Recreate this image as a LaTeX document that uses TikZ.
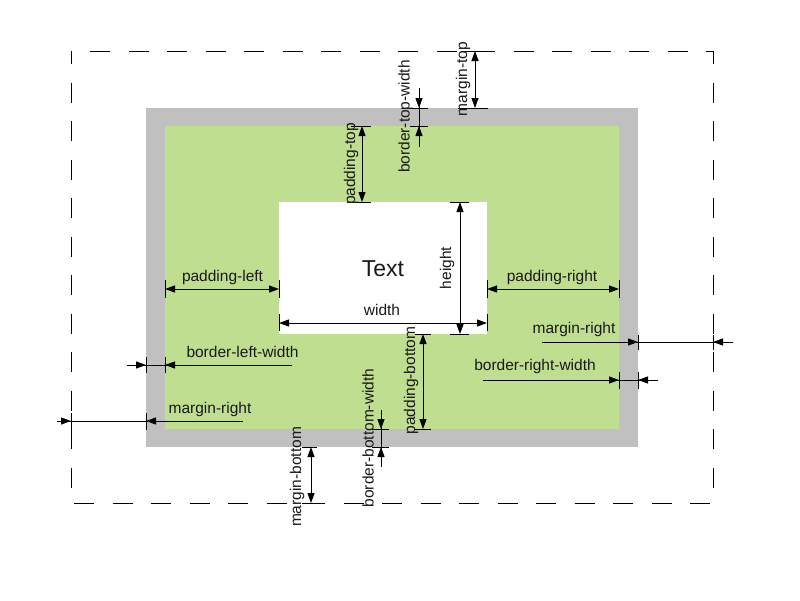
\documentclass[tikz,border=0pt]{standalone}
\usepackage{fontspec}
\setmainfont{Liberation Sans}
\usetikzlibrary{arrows.meta}
\definecolor{bordergray}{RGB}{192,192,192}
\definecolor{padgreen}{RGB}{191,222,144}
\definecolor{labelink}{RGB}{26,26,26}
\tikzset{
  ln/.style={line width=1pt, draw=black},
  tk/.style={line width=1pt, draw=black},
  dim/.style={ln, {Triangle[length=10pt,width=7pt]}-{Triangle[length=10pt,width=7pt]}},
  arr/.style={ln, -{Triangle[length=10pt,width=7pt]}},
  lbl/.style={font=\fontsize{15.5}{18}\selectfont, text=labelink, inner sep=0pt},
  vlbl/.style={lbl, rotate=90},
  marginbox/.style={line width=1pt, draw=black, dash pattern=on 20pt off 18.5pt, dash phase=7pt}
}
\begin{document}
\begin{tikzpicture}[x=1pt,y=-1pt]
\useasboundingbox (0,0) rectangle (800,600);
% boxes
\fill[bordergray] (146,108) rectangle (638,447);
\fill[padgreen] (165,126) rectangle (619,429);
\fill[white] (279,202) rectangle (487,334);
\draw[marginbox] (71,51) -- (71,503) -- (713,503) -- (713,51) -- cycle;

\node[lbl, font=\fontsize{23}{27}\selectfont] (text) at (383,269) {Text};

% margin-top
\draw[dim] (475,51) -- (475,108);
\draw[tk] (458,108) -- (488,108);
\draw[tk] (462,51) -- (488,51);
\node[vlbl] (lmt) at (463,79) {margin-top};

% border-top-width
\draw[ln] (419,88) -- (419,147);
\draw[arr] (419,88) -- (419,108);
\draw[arr] (419,147) -- (419,126);
\draw[tk] (410,108) -- (428,108);
\draw[tk] (410,126) -- (428,126);
\node[vlbl] (lbtw) at (405.5,116.5) {border-top-width};

% padding-top
\draw[dim] (362,126) -- (362,202);
\draw[tk] (351,126) -- (371,126);
\draw[tk] (353,202) -- (371,202);
\node[vlbl] (lpt) at (351,164) {padding-top};

% height
\draw[dim] (460,202) -- (460,334);
\draw[tk] (450,202) -- (469,202);
\draw[tk] (450,334) -- (469,334);
\node[vlbl] (lh) at (447,268) {height};

% width
\draw[dim] (279,323) -- (487,323);
\draw[tk] (279,314) -- (279,331);
\draw[tk] (487,314) -- (487,331);
\node[lbl] (lw) at (382,310) {width};

% padding-left
\draw[dim] (165,289) -- (279,289);
\draw[tk] (165,280) -- (165,298);
\draw[tk] (279,280) -- (279,298);
\node[lbl] (lpl) at (222.5,277.5) {padding-left};

% padding-right
\draw[dim] (487,289) -- (619,289);
\draw[tk] (487,280) -- (487,298);
\draw[tk] (619,280) -- (619,298);
\node[lbl] (lpr) at (552,277.5) {padding-right};

% border-left-width
\draw[ln] (127,365) -- (292,365);
\draw[arr] (127,365) -- (146,365);
\draw[arr] (292,365) -- (165,365);
\draw[tk] (146,357) -- (146,373);
\draw[tk] (165,357) -- (165,373);
\node[lbl] (lblw) at (242.5,352) {border-left-width};

% margin-right (left side)
\draw[ln] (57,421) -- (243,421);
\draw[arr] (57,421) -- (71,421);
\draw[arr] (243,421) -- (146,421);
\draw[tk] (71,413) -- (71,430);
\draw[tk] (146,413) -- (146,430);
\node[lbl] (lml) at (210,409) {margin-right};

% margin-right (right side)
\draw[ln] (542,342) -- (733,342);
\draw[arr] (542,342) -- (638,342);
\draw[arr] (733,342) -- (713,342);
\draw[tk] (638,335) -- (638,350);
\draw[tk] (713,335) -- (713,350);
\node[lbl] (lmr) at (574,329.5) {margin-right};

% border-right-width
\draw[ln] (483,380) -- (658,380);
\draw[arr] (483,380) -- (619,380);
\draw[arr] (658,380) -- (638,380);
\draw[tk] (619,372) -- (619,389);
\draw[tk] (638,372) -- (638,389);
\node[lbl] (lbrw) at (535,366.5) {border-right-width};

% padding-bottom
\draw[dim] (423,334) -- (423,429);
\draw[tk] (415,334) -- (431,334);
\draw[tk] (415,429) -- (431,429);
\node[vlbl] (lpb) at (411,380.5) {padding-bottom};

% border-bottom-width
\draw[ln] (381,410) -- (381,467);
\draw[arr] (381,410) -- (381,429);
\draw[arr] (381,467) -- (381,447);
\draw[tk] (372,429) -- (389,429);
\draw[tk] (372,447) -- (389,447);
\node[vlbl] (lbbw) at (368,438) {border-bottom-width};

% margin-bottom
\draw[dim] (311,447) -- (311,503);
\draw[tk] (302,447) -- (317,447);
\draw[tk] (302,503) -- (317,503);
\node[vlbl] (lmb) at (297,477) {margin-bottom};
\end{tikzpicture}
\end{document}
